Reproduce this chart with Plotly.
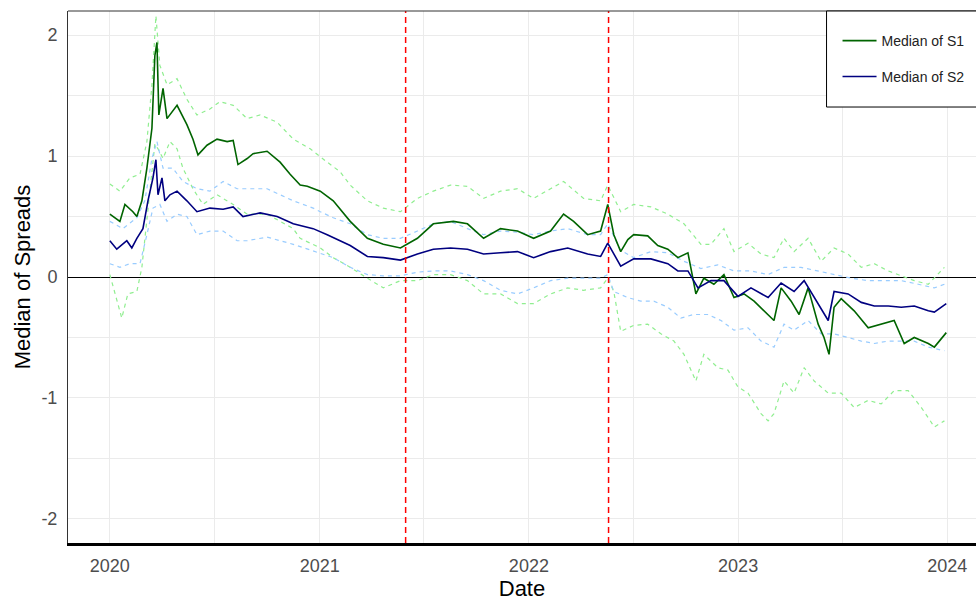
import plotly.graph_objects as go
from datetime import datetime, timedelta

# ---------------- data (decimal years) ----------------
s1_t = [2020.000, 2020.048, 2020.072, 2020.110, 2020.129, 2020.153, 2020.177, 2020.201, 2020.215, 2020.225,
        2020.234, 2020.254, 2020.273, 2020.297, 2020.321, 2020.368, 2020.397, 2020.421, 2020.464, 2020.512,
        2020.560, 2020.589, 2020.612, 2020.656, 2020.684, 2020.751, 2020.813, 2020.861, 2020.909, 2020.943,
        2021.005, 2021.067, 2021.148, 2021.230, 2021.306, 2021.388, 2021.469, 2021.545, 2021.641, 2021.708,
        2021.785, 2021.866, 2021.947, 2022.024, 2022.105, 2022.167, 2022.215, 2022.282, 2022.344, 2022.378,
        2022.407, 2022.440, 2022.474, 2022.502, 2022.569, 2022.617, 2022.665, 2022.713, 2022.761, 2022.799,
        2022.837, 2022.885, 2022.933, 2022.981, 2023.029, 2023.077, 2023.124, 2023.172, 2023.206, 2023.254,
        2023.292, 2023.335, 2023.383, 2023.411, 2023.435, 2023.459, 2023.493, 2023.555, 2023.622, 2023.684,
        2023.746, 2023.794, 2023.842, 2023.909, 2023.938, 2023.995]
s1_v = [0.52, 0.46, 0.60, 0.54, 0.50, 0.63, 0.90, 1.23, 1.83, 1.94,
        1.34, 1.56, 1.31, 1.37, 1.42, 1.26, 1.14, 1.01, 1.09, 1.14,
        1.12, 1.13, 0.93, 0.98, 1.02, 1.04, 0.95, 0.85, 0.76, 0.75,
        0.71, 0.63, 0.46, 0.32, 0.27, 0.24, 0.32, 0.44, 0.46, 0.44,
        0.32, 0.40, 0.38, 0.32, 0.38, 0.52, 0.46, 0.35, 0.38, 0.60,
        0.35, 0.21, 0.31, 0.35, 0.34, 0.26, 0.23, 0.16, 0.20, -0.14,
        -0.01, -0.06, 0.02, -0.17, -0.14, -0.20, -0.28, -0.36, -0.09, -0.20,
        -0.31, -0.09, -0.39, -0.50, -0.64, -0.25, -0.18, -0.28, -0.42, -0.39,
        -0.36, -0.55, -0.50, -0.55, -0.58, -0.46]

s2_t = [2020.000, 2020.033, 2020.081, 2020.105, 2020.129, 2020.158, 2020.182, 2020.206, 2020.220, 2020.230,
        2020.249, 2020.263, 2020.287, 2020.321, 2020.368, 2020.416, 2020.478, 2020.541, 2020.589, 2020.636,
        2020.718, 2020.799, 2020.876, 2020.971, 2021.038, 2021.148, 2021.230, 2021.306, 2021.388, 2021.469,
        2021.545, 2021.627, 2021.708, 2021.785, 2021.866, 2021.947, 2022.024, 2022.105, 2022.187, 2022.282,
        2022.344, 2022.378, 2022.440, 2022.502, 2022.584, 2022.665, 2022.713, 2022.761, 2022.809, 2022.871,
        2022.933, 2023.000, 2023.062, 2023.144, 2023.206, 2023.268, 2023.316, 2023.383, 2023.431, 2023.459,
        2023.526, 2023.589, 2023.651, 2023.718, 2023.780, 2023.842, 2023.909, 2023.938, 2023.995]
s2_v = [0.30, 0.23, 0.30, 0.24, 0.32, 0.40, 0.63, 0.82, 0.97, 0.68,
        0.82, 0.63, 0.68, 0.71, 0.63, 0.54, 0.57, 0.56, 0.58, 0.50,
        0.53, 0.50, 0.44, 0.40, 0.35, 0.26, 0.17, 0.16, 0.14, 0.19,
        0.23, 0.24, 0.23, 0.19, 0.20, 0.21, 0.16, 0.21, 0.24, 0.19,
        0.17, 0.28, 0.09, 0.15, 0.15, 0.11, 0.05, 0.05, -0.09, -0.03,
        -0.03, -0.16, -0.09, -0.17, -0.05, -0.12, -0.03, -0.22, -0.36, -0.12,
        -0.14, -0.21, -0.24, -0.24, -0.25, -0.24, -0.28, -0.29, -0.22]

s1_hi_t = [2020.000, 2020.048, 2020.096, 2020.144, 2020.177, 2020.201, 2020.220, 2020.239, 2020.273, 2020.321,
           2020.368, 2020.416, 2020.478, 2020.526, 2020.589, 2020.656, 2020.718, 2020.799, 2020.876, 2020.957,
           2021.038, 2021.100, 2021.148, 2021.230, 2021.306, 2021.388, 2021.469, 2021.545, 2021.627, 2021.708,
           2021.785, 2021.866, 2021.947, 2022.024, 2022.105, 2022.167, 2022.263, 2022.344, 2022.378, 2022.440,
           2022.502, 2022.584, 2022.665, 2022.742, 2022.823, 2022.871, 2022.933, 2022.981, 2023.048, 2023.110,
           2023.172, 2023.220, 2023.268, 2023.335, 2023.397, 2023.459, 2023.526, 2023.589, 2023.651, 2023.718,
           2023.780, 2023.842, 2023.909, 2023.986]
s1_hi_v = [0.77, 0.71, 0.82, 0.85, 1.12, 1.59, 2.16, 1.75, 1.59, 1.64,
           1.47, 1.34, 1.39, 1.45, 1.42, 1.31, 1.34, 1.28, 1.14, 1.06,
           0.95, 0.87, 0.76, 0.63, 0.57, 0.54, 0.65, 0.71, 0.76, 0.75,
           0.65, 0.71, 0.73, 0.65, 0.73, 0.79, 0.65, 0.63, 0.76, 0.54,
           0.60, 0.58, 0.52, 0.44, 0.27, 0.27, 0.40, 0.21, 0.28, 0.19,
           0.16, 0.32, 0.21, 0.32, 0.13, 0.24, 0.19, 0.08, 0.11, 0.05,
           0.01, -0.03, -0.06, 0.08]

s1_lo_t = [2020.000, 2020.033, 2020.057, 2020.086, 2020.129, 2020.153, 2020.177, 2020.201, 2020.215, 2020.230,
           2020.254, 2020.287, 2020.321, 2020.349, 2020.397, 2020.445, 2020.512, 2020.589, 2020.656, 2020.751,
           2020.876, 2020.909, 2021.005, 2021.067, 2021.148, 2021.230, 2021.306, 2021.388, 2021.469, 2021.545,
           2021.627, 2021.708, 2021.785, 2021.866, 2021.947, 2022.024, 2022.105, 2022.187, 2022.263, 2022.344,
           2022.378, 2022.407, 2022.440, 2022.502, 2022.569, 2022.632, 2022.694, 2022.742, 2022.799, 2022.837,
           2022.904, 2022.952, 2023.000, 2023.048, 2023.110, 2023.144, 2023.172, 2023.220, 2023.268, 2023.316,
           2023.364, 2023.431, 2023.493, 2023.555, 2023.622, 2023.684, 2023.746, 2023.813, 2023.876, 2023.938,
           2023.986]
s1_lo_v = [0.02, -0.20, -0.34, -0.14, -0.12, 0.08, 0.49, 0.90, 1.10, 1.06,
           0.98, 1.12, 1.06, 0.90, 0.73, 0.60, 0.68, 0.60, 0.52, 0.52,
           0.40, 0.32, 0.24, 0.16, 0.08, -0.01, -0.09, -0.03, -0.03, 0.02,
           0.02, -0.03, -0.14, -0.14, -0.22, -0.22, -0.14, -0.09, -0.11, -0.09,
           -0.01, -0.12, -0.45, -0.40, -0.39, -0.47, -0.53, -0.64, -0.86, -0.64,
           -0.75, -0.77, -0.91, -0.96, -1.13, -1.19, -1.13, -0.86, -0.96, -0.75,
           -0.86, -0.96, -0.96, -1.08, -1.02, -1.05, -0.94, -0.94, -1.08, -1.24,
           -1.19]

s2_hi_t = [2020.000, 2020.062, 2020.129, 2020.167, 2020.201, 2020.225, 2020.254, 2020.301, 2020.349, 2020.416,
           2020.478, 2020.541, 2020.608, 2020.656, 2020.751, 2020.876, 2020.971, 2021.005, 2021.067, 2021.148,
           2021.230, 2021.306, 2021.388, 2021.469, 2021.545, 2021.627, 2021.708, 2021.785, 2021.866, 2021.947,
           2022.024, 2022.105, 2022.187, 2022.282, 2022.344, 2022.378, 2022.440, 2022.502, 2022.584, 2022.665,
           2022.742, 2022.823, 2022.904, 2022.981, 2023.062, 2023.144, 2023.220, 2023.301, 2023.383, 2023.459,
           2023.541, 2023.622, 2023.699, 2023.780, 2023.861, 2023.938, 2023.986]
s2_hi_v = [0.46, 0.40, 0.49, 0.63, 0.98, 1.12, 0.90, 0.90, 0.79, 0.73,
           0.71, 0.79, 0.73, 0.73, 0.73, 0.63, 0.57, 0.54, 0.49, 0.44,
           0.35, 0.32, 0.32, 0.38, 0.44, 0.46, 0.40, 0.35, 0.38, 0.37,
           0.35, 0.38, 0.40, 0.35, 0.35, 0.44, 0.22, 0.16, 0.21, 0.20,
           0.13, 0.07, 0.10, 0.05, 0.05, 0.02, 0.08, 0.08, 0.05, 0.02,
           -0.01, -0.03, -0.03, -0.03, -0.06, -0.09, -0.06]

s2_lo_t = [2020.000, 2020.048, 2020.096, 2020.144, 2020.177, 2020.206, 2020.239, 2020.273, 2020.321, 2020.368,
           2020.416, 2020.478, 2020.541, 2020.608, 2020.656, 2020.751, 2020.876, 2021.005, 2021.067, 2021.148,
           2021.230, 2021.306, 2021.388, 2021.469, 2021.545, 2021.627, 2021.708, 2021.785, 2021.866, 2021.947,
           2022.024, 2022.105, 2022.187, 2022.282, 2022.344, 2022.378, 2022.407, 2022.474, 2022.536, 2022.598,
           2022.665, 2022.727, 2022.789, 2022.856, 2022.919, 2022.981, 2023.048, 2023.110, 2023.172, 2023.220,
           2023.268, 2023.335, 2023.397, 2023.459, 2023.526, 2023.589, 2023.651, 2023.718, 2023.780, 2023.842,
           2023.909, 2023.986]
s2_lo_v = [0.11, 0.08, 0.11, 0.11, 0.35, 0.57, 0.60, 0.46, 0.52, 0.50,
           0.35, 0.38, 0.38, 0.30, 0.30, 0.33, 0.27, 0.20, 0.16, 0.08,
           0.02, 0.01, 0.01, 0.04, 0.05, 0.05, 0.02, -0.03, -0.11, -0.14,
           -0.09, -0.03, -0.01, -0.01, -0.01, 0.02, -0.12, -0.17, -0.20, -0.20,
           -0.25, -0.34, -0.31, -0.31, -0.36, -0.44, -0.42, -0.53, -0.58, -0.39,
           -0.44, -0.36, -0.47, -0.47, -0.50, -0.53, -0.55, -0.53, -0.53, -0.53,
           -0.58, -0.61]

event_dates = ["2021-05-31", "2022-05-20"]
x_ticks = ["2020", "2021", "2022", "2023", "2024"]
y_ticks = [-2, -1, 0, 1, 2]
y_minor = [-1.5, -0.5, 0.5, 1.5]
x_limits = ["2019-10-20", "2024-02-20"]
y_limits = [-2.2, 2.2]


def to_dates(ts):
    base = datetime(2020, 1, 1)
    return [base + timedelta(days=(t - 2020.0) * 365.25) for t in ts]


FONT = "Liberation Sans, Arial, sans-serif"
GREEN, NAVY = "#006400", "#000080"
LGREEN, LBLUE = "#90EE90", "#99CCFF"

fig = go.Figure()

bands = [(s1_hi_t, s1_hi_v, LGREEN), (s1_lo_t, s1_lo_v, LGREEN),
         (s2_hi_t, s2_hi_v, LBLUE), (s2_lo_t, s2_lo_v, LBLUE)]
for t, v, c in bands:
    fig.add_trace(go.Scatter(x=to_dates(t), y=v, mode="lines", showlegend=False,
                             line=dict(color=c, width=1.2, dash="4px,4px"), hoverinfo="skip"))

fig.add_trace(go.Scatter(x=to_dates(s1_t), y=s1_v, mode="lines", name="Median of S1",
                         line=dict(color=GREEN, width=1.6), legend="legend"))
fig.add_trace(go.Scatter(x=to_dates(s2_t), y=s2_v, mode="lines", name="Median of S2",
                         line=dict(color=NAVY, width=1.6), legend="legend2"))

for d in event_dates:
    fig.add_shape(type="line", x0=d, x1=d, xref="x", yref="paper", y0=0, y1=1,
                  line=dict(color="red", width=1.5, dash="6px,4px"))

# panel top border and legend frame
fig.add_shape(type="line", xref="paper", yref="paper", x0=0, x1=1, y0=1, y1=1,
              line=dict(color="#333333", width=1))
fig.add_shape(type="rect", xref="paper", yref="paper", x0=0.8354, x1=1.05, y0=0.8195, y1=1.0,
              line=dict(color="black", width=1), fillcolor="white", layer="above")

leg_common = dict(bgcolor="rgba(0,0,0,0)", borderwidth=0, itemwidth=34,
                  font=dict(family=FONT, size=14, color="#222222"),
                  xanchor="left", yanchor="middle")

fig.update_layout(
    width=976, height=601,
    margin=dict(l=68, r=0, t=11, b=58, autoexpand=False),
    paper_bgcolor="white", plot_bgcolor="white",
    font=dict(family=FONT),
    showlegend=True,
    legend=dict(x=0.8475, y=0.9436, **leg_common),
    legend2=dict(x=0.8475, y=0.876, **leg_common),
    xaxis=dict(
        type="date", range=x_limits,
        tickvals=[f"{y}-01-01" for y in x_ticks], ticktext=x_ticks,
        minor=dict(tickvals=[f"{y}-07-02" for y in range(2019, 2024)], showgrid=True,
                   gridcolor="#EBEBEB", gridwidth=1),
        showgrid=True, gridcolor="#EBEBEB", gridwidth=1,
        showline=True, linecolor="black", linewidth=3,
        ticks="", ticklabelstandoff=4,
        tickfont=dict(family=FONT, size=18, color="#4D4D4D"),
        title=dict(text="Date", font=dict(family=FONT, size=22, color="black"), standoff=9),
        zeroline=False,
    ),
    yaxis=dict(
        range=y_limits, tickvals=y_ticks, ticktext=[str(v) for v in y_ticks],
        minor=dict(tickvals=y_minor, showgrid=True, gridcolor="#EBEBEB", gridwidth=1),
        showgrid=True, gridcolor="#EBEBEB", gridwidth=1,
        showline=True, linecolor="#333333", linewidth=1,
        zeroline=True, zerolinecolor="black", zerolinewidth=1.2,
        ticks="", ticklabelstandoff=6,
        tickfont=dict(family=FONT, size=18, color="#4D4D4D"),
        title=dict(text="Median of Spreads", font=dict(family=FONT, size=22, color="black"), standoff=4),
    ),
)

fig.write_html("out.html", config={"displayModeBar": False},
               post_script="document.body.style.margin='0';")
